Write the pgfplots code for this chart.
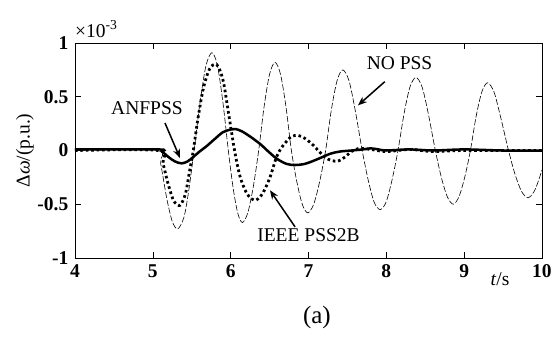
\documentclass[border=0pt]{standalone}
\usepackage{fontspec}
\setmainfont{Liberation Serif}
\usepackage{pgfplots}
\pgfplotsset{compat=1.18}
\usetikzlibrary{arrows.meta}

\pgfplotstableread{
t y
4.00 0
5.05 0
5.10 -0.12
5.18 -0.45
5.25 -0.66
5.32 -0.73
5.40 -0.62
5.46 -0.38
5.53 0
5.607 0.45
5.683 0.79
5.76 0.91
5.83 0.79
5.90 0.45
5.97 0
6.03 -0.34
6.09 -0.58
6.15 -0.67
6.22 -0.58
6.29 -0.34
6.36 0
6.43 0.41
6.50 0.71
6.57 0.82
6.64 0.71
6.71 0.41
6.78 0
6.85 -0.29
6.92 -0.50
6.99 -0.58
7.067 -0.50
7.143 -0.29
7.22 0
7.293 0.375
7.367 0.65
7.44 0.75
7.52 0.65
7.60 0.375
7.69 0
7.767 -0.275
7.843 -0.48
7.92 -0.55
7.997 -0.48
8.073 -0.275
8.15 0
8.227 0.34
8.303 0.59
8.38 0.68
8.46 0.59
8.54 0.34
8.63 0
8.707 -0.25
8.783 -0.43
8.86 -0.50
8.933 -0.43
9.007 -0.25
9.08 0
9.153 0.315
9.227 0.545
9.30 0.63
9.383 0.545
9.467 0.315
9.57 0
9.653 -0.22
9.737 -0.38
9.82 -0.44
9.90 -0.38
9.96 -0.27
10.0 -0.18
}\nopss

\pgfplotstableread{
t y
4.00 0
5.07 0
5.13 -0.12
5.20 -0.32
5.27 -0.47
5.35 -0.51
5.42 -0.40
5.47 -0.20
5.52 0
5.58 0.30
5.65 0.58
5.73 0.76
5.82 0.80
5.90 0.66
5.97 0.36
6.05 0
6.12 -0.24
6.20 -0.39
6.27 -0.45
6.33 -0.46
6.41 -0.40
6.50 -0.26
6.58 -0.08
6.63 0
6.70 0.07
6.78 0.13
6.87 0.14
6.96 0.11
7.06 0.05
7.15 -0.02
7.25 -0.08
7.37 -0.10
7.47 -0.06
7.55 -0.01
7.65 0.02
7.80 0.01
8.00 -0.01
8.30 0.01
8.60 -0.01
9.00 0
10.0 0
}\pssb

\pgfplotstableread{
t y
4.00 0.01
5.07 0.01
5.12 -0.01
5.20 -0.06
5.28 -0.10
5.37 -0.12
5.45 -0.10
5.52 -0.06
5.60 -0.01
5.69 0.04
5.80 0.11
5.90 0.17
6.00 0.195
6.06 0.20
6.14 0.18
6.25 0.13
6.38 0.06
6.50 -0.02
6.60 -0.08
6.72 -0.125
6.83 -0.135
6.95 -0.125
7.05 -0.10
7.15 -0.07
7.28 -0.03
7.40 -0.01
7.55 0.00
7.70 0.01
7.80 0.02
7.90 0.01
8.00 0.00
8.30 0.01
8.60 0.00
9.00 0.01
9.50 0.00
10.0 0.00
}\anf

\begin{document}
\fontsize{19.5}{23}\selectfont
\begin{tikzpicture}[every node/.append style={font=\fontsize{19.5}{23}\selectfont}]
\begin{axis}[
  at={(0,0)}, anchor=south west, scale only axis,
  width=467pt, height=215pt,
  xmin=4, xmax=10, ymin=-1, ymax=1,
  xtick={4,5,6,7,8,9,10}, xticklabels={4,5,6,7,8,9,10},
  ytick={-1,-0.5,0,0.5,1}, yticklabels={-1,-0.5,0,0.5,1},
  tick align=inside, major tick length=6pt,
  ticklabel style={font=\fontsize{19.5}{23}\selectfont\bfseries},
  axis line style={line width=0.8pt},
  tick style={line width=0.6pt, black},
  clip=false,
]
\addplot[black, line width=0.6pt, dash pattern=on 6pt off 2pt, smooth] table[x=t,y=y] {\nopss};
\addplot[black, line width=2.8pt, dash pattern=on 2.6pt off 2.8pt, smooth] table[x=t,y=y] {\pssb};
\addplot[black, line width=2.5pt, smooth] table[x=t,y=y] {\anf};

\node at (axis cs:4.925,0.395) {ANFPSS};
\node at (axis cs:8.17,0.815) {NO PSS};
\node at (axis cs:7.0,-0.79) {IEEE PSS2B};
\draw[line width=1.5pt, -{Stealth[length=9pt,width=7pt]}] (axis cs:5.156,0.256) -- (axis cs:5.349,-0.07);
\draw[line width=1.5pt, -{Stealth[length=9pt,width=7pt]}] (axis cs:7.98,0.64) -- (axis cs:7.636,0.42);
\draw[line width=1.5pt, -{Stealth[length=9pt,width=7pt]}] (axis cs:6.827,-0.71) -- (axis cs:6.505,-0.37);

\node[rotate=90] at (rel axis cs:-0.107,0.5) {Δ\textit{ω}/(p.u.)};
\node[anchor=base west, inner sep=0pt, yshift=6pt] at (rel axis cs:0,1) {×10\textsuperscript{-3}};
\node[anchor=base, yshift=-27pt] at (rel axis cs:0.91,0) {\textit{t}/s};
\node[anchor=base, yshift=-65pt, font=\fontsize{25}{30}\selectfont] at (rel axis cs:0.518,0) {(a)};
\end{axis}
\path (-75pt,-80pt) rectangle (484pt,258pt);
\end{tikzpicture}
\end{document}
